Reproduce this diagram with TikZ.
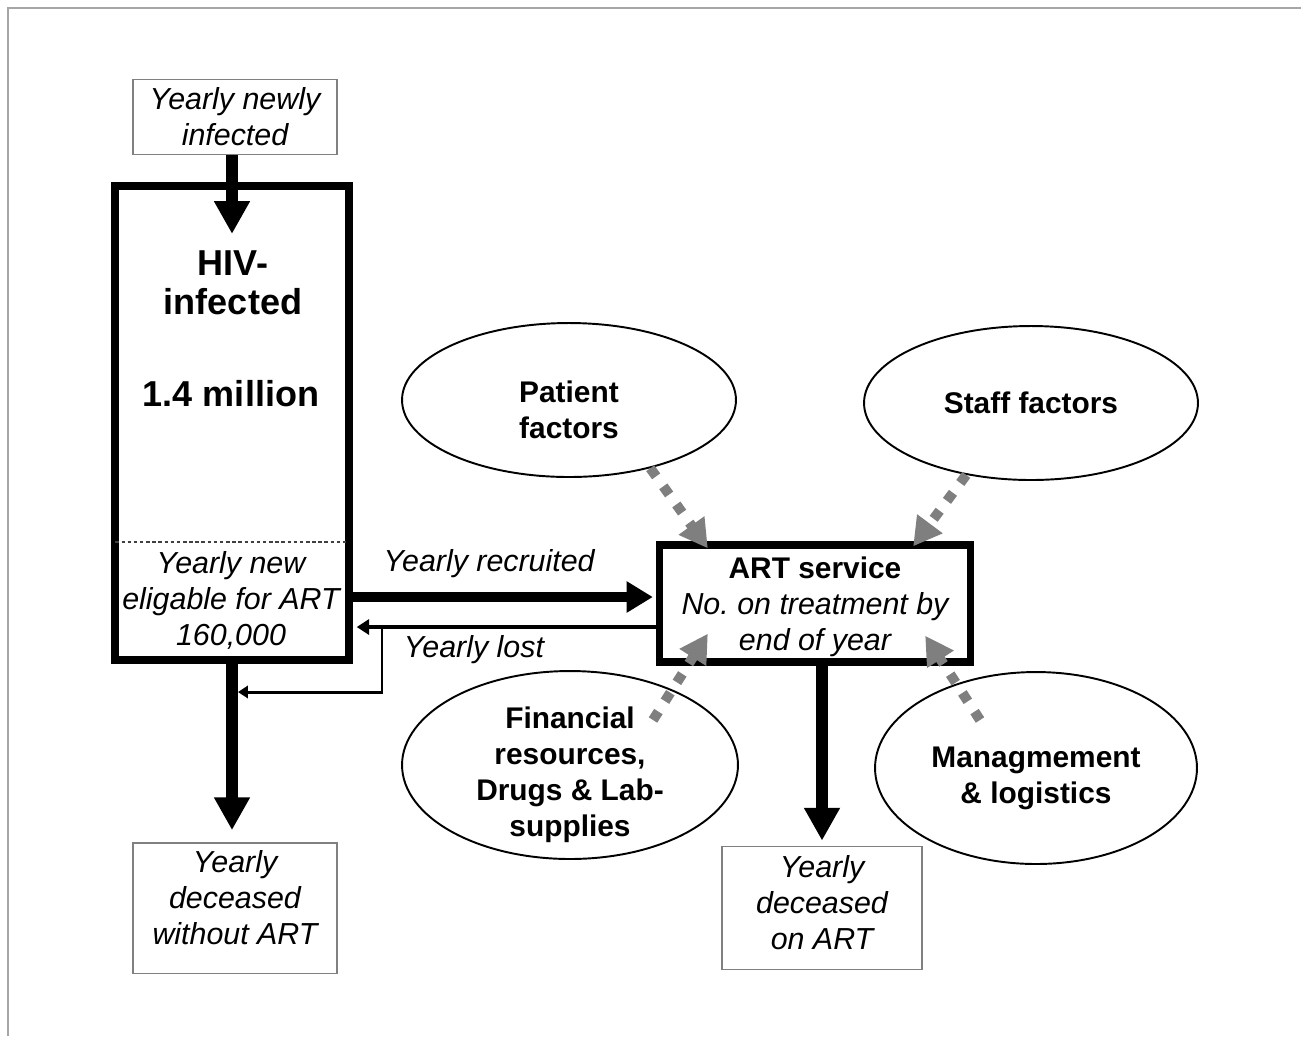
\documentclass[tikz,border=0pt]{standalone}
\usepackage{fontspec}
\setmainfont{Liberation Sans}
\usepackage{tikz}
\usetikzlibrary{shapes, arrows.meta, positioning, calc}
\definecolor{framegrey}{HTML}{A6A6A6}
\definecolor{boxgrey}{HTML}{808080}
\definecolor{infgrey}{HTML}{7F7F7F}
\frenchspacing

\begin{document}
\begin{tikzpicture}[
        x=0.02cm, y=-0.02cm,
        note/.style={rectangle, draw=boxgrey, line width=1.1pt, fill=white, align=center, inner sep=0pt, font=\fontsize{17.3}{20.5}\selectfont\itshape},
        stock/.style={rectangle, draw=black, line width=4.2pt, align=center, inner sep=0pt},
        factor/.style={ellipse, draw=black, line width=1.1pt, inner sep=0pt},
        factortext/.style={align=center, inner sep=0pt, yshift=-0.2cm, font=\fontsize{17}{20.5}\selectfont\bfseries},
        txt/.style={align=center, inner sep=0pt},
        flowlabel/.style={inner sep=0pt, font=\fontsize{17.3}{20.5}\selectfont\itshape},
        flow/.style={draw, line width=6.8pt, -{Triangle[width=19.3pt, length=18.7pt]}},
        recruit/.style={draw, line width=5.7pt, -{Triangle[width=17pt, length=15pt]}},
        lost/.style={draw, line width=2.3pt, -{Triangle[width=8.5pt, length=7pt]}},
        branch/.style={draw, line width=1.7pt, -{Triangle[width=7pt, length=5.7pt]}},
        influence/.style={draw, color=infgrey, line width=5.7pt, dash pattern=on 5.7pt off 7pt, -{Triangle[width=17pt, length=16pt]}}
    ]
        \useasboundingbox (0,0) rectangle (1301,1036);
        % Frame, top and left edge only
        \draw[framegrey, line width=1.2pt] (8,1036) -- (8,8) -- (1301,8);

        % Stock of HIV-infected
        \node[note, minimum width=4.08cm, minimum height=1.5cm] (newinf) at (235,117) {Yearly newly\\infected};
        \node[stock, minimum width=4.68cm, minimum height=9.48cm] (hiv) at (232,423) {};
        \node[txt, font=\fontsize{20.5}{22}\selectfont\bfseries] (hivname) at (233,283) {HIV-\\infected};
        \node[txt, font=\fontsize{20.5}{22}\selectfont\bfseries] (hivcount) at (231,394) {1.4 million};
        \coordinate (split) at (232,542);
        \draw[black!75, line width=0.6pt, dash pattern=on 2pt off 1.5pt, shorten <=2.3pt, shorten >=2.3pt] (hiv.west |- split) -- (hiv.east |- split);
        \node[txt, font=\fontsize{17.3}{20.5}\selectfont\itshape] (elig) at (231,600) {Yearly new\\eligable for ART\\160,000};
        \node[note, minimum width=4.08cm, minimum height=2.62cm, text depth=0.44cm] (deadno) at (235,908) {Yearly\\deceased\\without ART};

        % ART service
        \node[stock, minimum width=6.22cm, minimum height=2.34cm, font=\fontsize{17.3}{20.5}\selectfont\itshape] (art) at (815,603.5) {\rule{0pt}{16pt}{\upshape\bfseries\fontsize{17}{20.5}\selectfont ART service}\\No. on treatment by\\end of year};
        \node[note, minimum width=4.0cm, minimum height=2.46cm, text depth=0.24cm] (deadart) at (822,908) {Yearly\\deceased\\on ART};

        % Factors
        \node[factor, minimum width=6.68cm, minimum height=3.08cm, label={[factortext]center:Patient\\factors}] (pat) at (569,400) {};
        \node[factor, minimum width=6.68cm, minimum height=3.08cm, label={[factortext, yshift=0.2cm]center:Staff factors}] (staff) at (1031,403) {};
        \node[factor, minimum width=6.72cm, minimum height=3.76cm, label={[factortext]center:Financial\\resources,\\Drugs \& Lab-\\supplies}] (fin) at (570,765) {};
        \node[factor, minimum width=6.44cm, minimum height=3.84cm, label={[factortext]center:Managmement\\\& logistics}] (mgmt) at (1036,768) {};

        % Flows
        \draw[flow, shorten >=9.6pt] (newinf.south -| hiv.north) -- (hivname.north -| hiv.north);
        \draw[flow, shorten >=6.5pt] (hiv.south) -- (hiv.south |- deadno.north);
        \draw[flow, shorten >=2.8pt] (art.south -| deadart.north) -- (deadart.north);

        \coordinate (recy) at (500,597);
        \coordinate (fork) at (382,627);
        \coordinate (forkend) at (382,692);
        \draw[recruit, shorten >=1.7pt] (hiv.east |- recy) -- node[flowlabel, pos=0.45, yshift=0.66cm] (recrlbl) {Yearly recruited} (art.west |- recy);
        \draw[lost, shorten >=2.3pt] (art.west |- fork) -- node[flowlabel, pos=0.6, yshift=-0.46cm] (lostlbl) {Yearly lost} (hiv.east |- fork);
        \draw[branch, shorten >=3.4pt] (fork) -- (forkend) -- (forkend -| hiv.south);

        % Influences on the ART service
        \draw[influence] (pat.-40) -- ($(art.north west)+(52,7)$);
        \draw[influence] (staff.-132) -- ($(art.north east)+(-61,5)$);
        \draw[influence] ($(fin.center)+(83,-45)$) -- ($(art.south west)+(52,-32)$);
        \draw[influence] ($(mgmt.center)+(-56,-48)$) -- ($(art.south east)+(-49,-30)$);
\end{tikzpicture}
\end{document}
